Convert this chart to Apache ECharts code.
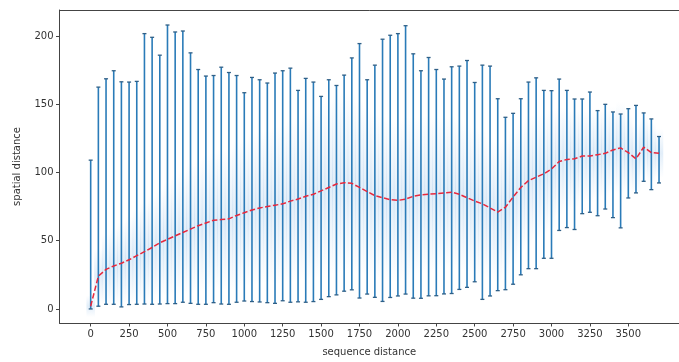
<!DOCTYPE html>
<html>
<head>
<meta charset="utf-8">
<script src="https://cdn.jsdelivr.net/npm/echarts@6/dist/echarts.min.js"></script>
<style>html,body{margin:0;padding:0;background:#fff}#c{width:679px;height:362px}</style>
</head>
<body>
<div id="c"></div>
<script>
const seqDist = [0,50,100,150,200,250,300,350,400,450,500,550,600,650,700,750,800,850,900,950,
1000,1050,1100,1150,1200,1250,1300,1350,1400,1450,1500,1550,1600,1650,1700,1750,1800,1850,1900,1950,
2000,2050,2100,2150,2200,2250,2300,2350,2400,2450,2500,2550,2600,2650,2700,2750,2800,2850,2900,2950,
3000,3050,3100,3150,3200,3250,3300,3350,3400,3450,3500,3550,3600,3650,3700];
const maxVal = [109,162.5,168.6,174.5,166.4,166.2,166.7,201.7,199,185.9,208,202.9,203.6,187.6,175.4,170.6,171,177.1,173.2,171,
158.4,169.6,167.9,165.5,172.8,174.5,176.4,160.1,168.9,166.2,155.7,167.9,163.7,171.3,183.9,194.4,167.9,178.6,197.6,200.5,
201.7,207.5,186.9,174.5,184.2,175.4,168.4,177.4,177.9,182,165.9,178.6,177.9,154,140.4,143.3,154,166.2,169.3,160.1,
159.9,168.4,160.1,153.8,153.8,158.9,145.3,149.9,144.3,142.8,146.7,149.1,143.6,139.2,126.3];
const minVal = [0,2,3.4,3.4,1.5,3.2,3.4,3.6,3.4,3.6,3.9,3.9,4.9,4.1,3.4,3.4,4.6,3.6,3.4,4.9,
5.8,5.4,5.1,4.6,4.1,6,4.9,5.2,4.9,5.4,7,9,10.3,13,14,8,10.9,8.5,5.5,8.4,
9.5,10.9,7.9,7.8,9.6,9.7,11,11.3,14.3,15.8,19.9,7,9.5,13.4,14.1,18.1,25,29.5,29.5,37.1,
37.1,57.5,59.6,58.2,69.8,70.8,68.3,73.2,66.9,59.4,81.3,85,93.5,87.4,92.3];
const meanVal = [2,24,29,31.5,33.5,36,39,42,45,48.5,51,53.5,56,58.5,61,63,65,65.5,66,68.5,
70.5,72.5,74,75,76,77,79,80.5,82.5,84,86.5,89,91.5,92.5,92,89,86,83,81.5,80,
79.5,80.5,82.5,83.5,84,84.5,85,85.5,84,81.5,79,77,74,71,74.5,82,89,94,96.5,99,
102.5,108,109.5,110,112,112,113,114,116.5,118,114.5,110,118.5,114.5,114];
const spreadVal = [4,10,13,14,15,16,17,18,19,20,21,22,23,24,24,25,25,26,26,27,
27,28,28,28,29,29,30,30,31,31,32,32,33,33,33,32,31,30,30,30,
30,30,29,29,29,28,28,28,28,27,27,27,26,26,25,25,24,24,23,22,
22,20,19,18,17,17,16,16,16,17,14,13,11,11,9];
const xTicks = [0,250,500,750,1000,1250,1500,1750,2000,2250,2500,2750,3000,3250,3500];
const yTicks = [0,50,100,150,200];

const font = 'DejaVu Sans';
const chart = echarts.init(document.getElementById('c'), null, {renderer:'canvas'});
const barData = seqDist.map((x,i)=>[x,minVal[i],maxVal[i]]);
const hazeData = seqDist.map((x,i)=>[x,meanVal[i],spreadVal[i]]);
const meanData = seqDist.map((x,i)=>[x,meanVal[i]]);
const spine = {color:'#444',width:1};

chart.setOption({
  animation:false,
  backgroundColor:'#fff',
  grid:{left:59.5,top:10,right:0,bottom:38,show:false},
  xAxis:[{type:'value',min:-203,max:3830,
    name:'sequence distance',nameLocation:'middle',nameGap:24,
    nameTextStyle:{fontFamily:font,fontSize:10,color:'#333'},
    axisLine:{show:true,onZero:false,lineStyle:spine},
    axisTick:{show:true,inside:false,length:3.5,customValues:xTicks,lineStyle:spine},
    axisLabel:{customValues:xTicks,fontFamily:font,fontSize:10,color:'#333',margin:6,formatter:v=>String(v)},
    splitLine:{show:false}},
   {type:'value',position:'top',min:-203,max:3830,
    axisLine:{show:true,onZero:false,lineStyle:spine},
    axisTick:{show:false},axisLabel:{show:false},splitLine:{show:false}}],
  yAxis:{type:'value',min:-10.3,max:219,
    name:'spatial distance',nameLocation:'middle',nameGap:37,nameRotate:90,
    nameTextStyle:{fontFamily:font,fontSize:10,color:'#333'},
    axisLine:{show:true,onZero:false,lineStyle:spine},
    axisTick:{show:true,inside:false,length:3.5,customValues:yTicks,lineStyle:spine},
    axisLabel:{customValues:yTicks,fontFamily:font,fontSize:10,color:'#333',margin:6,formatter:v=>String(v)},
    splitLine:{show:false}},
  series:[
    {type:'custom',clip:true,z:1,data:hazeData,
     renderItem:function(params,api){
       const x=api.value(0),m=api.value(1),s=api.value(2);
       const t=api.coord([x,m+2*s]), b=api.coord([x,m-2*s]);
       const w=api.size([50,0])[0]*1.1;
       return {type:'rect',shape:{x:t[0]-w/2,y:t[1],width:w,height:b[1]-t[1]},
         style:{fill:new echarts.graphic.LinearGradient(0,0,0,1,[
           {offset:0,color:'rgba(110,170,225,0)'},
           {offset:0.5,color:'rgba(110,170,225,0.2)'},
           {offset:1,color:'rgba(110,170,225,0)'}])}};
     }},
    {type:'custom',clip:true,z:2,data:barData,
     renderItem:function(params,api){
       const x=api.value(0),lo=api.value(1),hi=api.value(2);
       const p1=api.coord([x,lo]), p2=api.coord([x,hi]);
       return {type:'group',children:[
         {type:'line',shape:{x1:p1[0],y1:p1[1],x2:p2[0],y2:p2[1]},style:{stroke:'#2a7bb8',lineWidth:1.6}},
         {type:'line',shape:{x1:p1[0]-2,y1:p1[1],x2:p1[0]+2,y2:p1[1]},style:{stroke:'#2f5f86',lineWidth:1.3}},
         {type:'line',shape:{x1:p2[0]-2,y1:p2[1],x2:p2[0]+2,y2:p2[1]},style:{stroke:'#2f5f86',lineWidth:1.3}}
       ]};
     }},
    {type:'line',z:3,data:meanData,symbol:'none',smooth:false,
     lineStyle:{color:'#e8283c',width:1.5,type:[5.5,2.4]}}
  ]
});
</script>
</body>
</html>
